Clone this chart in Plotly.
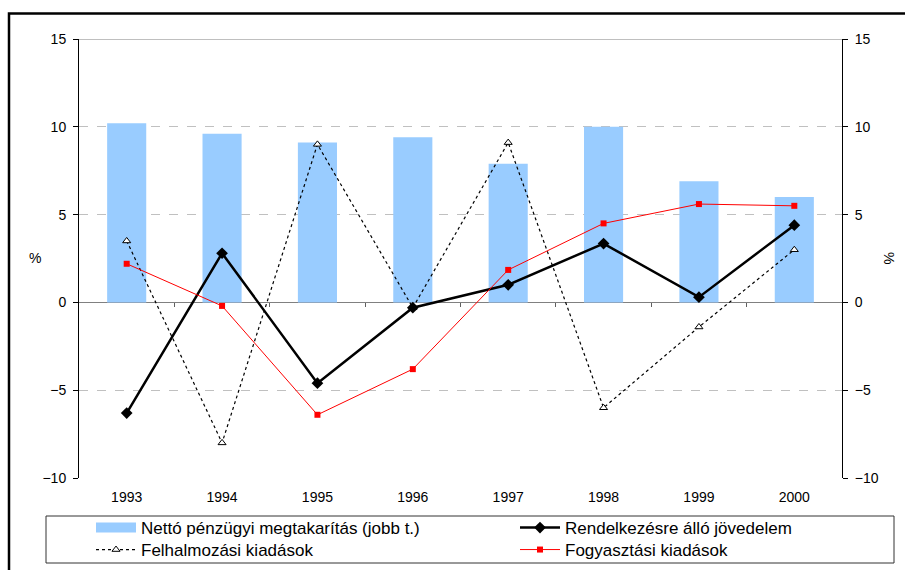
import plotly.graph_objects as go

# Annual growth rates, %
years = ["1993", "1994", "1995", "1996", "1997", "1998", "1999", "2000"]
net_fin_savings = [10.2, 9.6, 9.1, 9.4, 7.9, 10.0, 6.9, 6.0]      # right axis
disposable_income = [-6.3, 2.8, -4.6, -0.3, 1.0, 3.35, 0.3, 4.4]
accumulation = [3.5, -8.0, 9.0, -0.3, 9.1, -6.0, -1.4, 3.0]
consumption = [2.2, -0.2, -6.4, -3.8, 1.85, 4.5, 5.6, 5.5]

y_ticks = [-10, -5, 0, 5, 10, 15]
boundaries = [0.5, 1.5, 2.5, 3.5, 4.5, 5.5, 6.5]

FONT = "Liberation Sans, Arial, sans-serif"
BAR_BLUE = "#99CCFF"

W, H = 905, 570
ML, MR, MT, MB = 79, 63, 39, 92
PW, PH = W - ML - MR, H - MT - MB


def px_x(px):
    return (px - ML) / PW


def px_y(py):
    return (H - MB - py) / PH


fig = go.Figure()

# bars on the right-hand axis (base axis so the lines sit above them)
fig.add_trace(go.Bar(
    x=years, y=net_fin_savings, yaxis="y", xaxis="x",
    marker=dict(color=BAR_BLUE, line=dict(width=0)),
    width=0.41, showlegend=False, name="Nettó pénzügyi megtakarítás (jobb t.)",
))

# legend proxy for the bar series (wide swatch)
fig.add_trace(go.Scatter(
    x=[None], y=[None], mode="lines", yaxis="y2",
    line=dict(color=BAR_BLUE, width=10),
    name="Nettó pénzügyi megtakarítás (jobb t.)", legend="legend",
))

fig.add_trace(go.Scatter(
    x=years, y=accumulation, yaxis="y2", mode="lines+markers",
    line=dict(color="black", width=1.2, dash="dot"),
    marker=dict(symbol="triangle-up", size=7, color="white",
                line=dict(color="black", width=1)),
    name="Felhalmozási kiadások", legend="legend3",
))

fig.add_trace(go.Scatter(
    x=years, y=disposable_income, yaxis="y2", mode="lines+markers",
    line=dict(color="black", width=2.5),
    marker=dict(symbol="diamond", size=9, color="black"),
    name="Rendelkezésre álló jövedelem", legend="legend2",
))

fig.add_trace(go.Scatter(
    x=years, y=consumption, yaxis="y2", mode="lines+markers",
    line=dict(color="#FF0000", width=1),
    marker=dict(symbol="square", size=6, color="#FF0000"),
    name="Fogyasztási kiadások", legend="legend4",
))

# carrier for the category-boundary ticks on the zero line
fig.add_trace(go.Scatter(x=[], y=[], xaxis="x2", yaxis="y", showlegend=False,
                         hoverinfo="skip"))

tickfont = dict(family=FONT, size=14, color="black")
legfont = dict(family=FONT, size=17, color="black")


def legend_at(left_px, top_px):
    return dict(
        x=px_x(left_px), xanchor="left", y=px_y(top_px), yanchor="top",
        orientation="v", bgcolor="rgba(0,0,0,0)", borderwidth=0,
        font=legfont, itemwidth=40,
    )


fig.update_layout(
    width=W, height=H,
    margin=dict(l=ML, r=MR, t=MT, b=MB, autoexpand=False),
    paper_bgcolor="white", plot_bgcolor="white",
    xaxis=dict(
        type="category", range=[-0.5, 7.5], showline=False, showgrid=False,
        zeroline=False, ticks="", tickfont=tickfont, ticklabelstandoff=9,
    ),
    xaxis2=dict(
        overlaying="x", anchor="free", position=0.4, range=[-0.5, 7.5],
        tickvals=boundaries, ticks="outside", ticklen=4, tickwidth=1,
        tickcolor="#606060", showticklabels=False, showline=False,
        showgrid=False, zeroline=False,
    ),
    yaxis=dict(
        side="right", range=[-10, 15], tickvals=y_ticks,
        showline=True, linecolor="black", linewidth=1,
        ticks="outside", ticklen=5, tickcolor="black", tickfont=tickfont,
        ticklabelstandoff=4,
        showgrid=True, gridcolor="#C0C0C0", griddash="dash", gridwidth=1,
        zeroline=True, zerolinecolor="#808080", zerolinewidth=1,
    ),
    yaxis2=dict(
        side="left", overlaying="y", range=[-10, 15], tickvals=y_ticks,
        showline=True, linecolor="black", linewidth=1,
        ticks="outside", ticklen=5, tickcolor="black", tickfont=tickfont,
        ticklabelstandoff=4, showgrid=False, zeroline=False,
    ),
    legend=legend_at(91, 510),
    legend2=legend_at(515, 510),
    legend3=legend_at(91, 532),
    legend4=legend_at(515, 532),
    shapes=[
        # top border line at 15
        dict(type="line", xref="paper", yref="y", x0=0, x1=1, y0=15, y1=15,
             line=dict(color="#808080", width=1)),
        # legend box
        dict(type="rect", xref="paper", yref="paper",
             x0=px_x(46), x1=px_x(894), y0=px_y(516), y1=px_y(563),
             line=dict(color="#333333", width=1), fillcolor="rgba(0,0,0,0)"),
        # outer frame
        dict(type="rect", xref="paper", yref="paper",
             x0=px_x(9), x1=px_x(912), y0=px_y(13.5), y1=px_y(580),
             line=dict(color="black", width=2.5), fillcolor="rgba(0,0,0,0)"),
    ],
    annotations=[
        dict(text="%", xref="paper", yref="paper", x=px_x(35), y=px_y(258),
             xanchor="center", yanchor="middle", showarrow=False,
             font=dict(family=FONT, size=14, color="black")),
        dict(text="%", xref="paper", yref="paper", x=px_x(889), y=px_y(258),
             xanchor="center", yanchor="middle", showarrow=False, textangle=90,
             font=dict(family=FONT, size=14, color="black")),
    ],
)

fig.write_html("out.html")
